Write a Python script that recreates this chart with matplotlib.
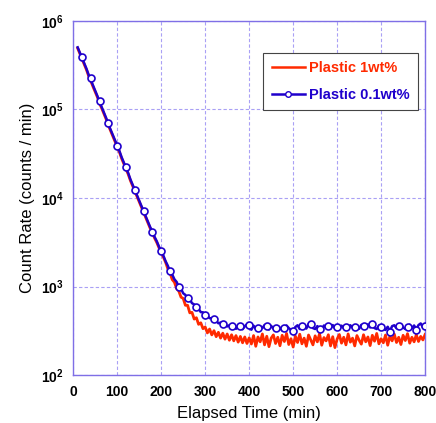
import numpy as np
import matplotlib
matplotlib.use('Agg')
import matplotlib.pyplot as plt
from matplotlib.lines import Line2D
from matplotlib.ticker import FixedLocator, FuncFormatter

plt.rcParams['font.family'] = ['Liberation Sans', 'DejaVu Sans']
plt.rcParams['mathtext.fontset'] = 'custom'
plt.rcParams['mathtext.rm'] = 'Liberation Sans'
plt.rcParams['mathtext.bf'] = 'Liberation Sans:bold'

# elapsed time grid (min) for the dense traces
time_min = np.arange(10, 801, 5)

# Plastic 1wt% (red trace), counts / min
red_counts = [
    490000, 425000, 370000, 322000, 280000, 238000, 208000, 180000, 157000, 137000,
    116000, 102000, 88500, 77000, 65600, 57100, 49800, 43400, 37700, 32900,
    27900, 24300, 21200, 18500, 15700, 13700, 11900, 10400, 9050, 7890,
    6870, 5980, 5210, 4540, 4040, 3520, 3140, 2740, 2450, 2140,
    1880, 1590, 1430, 1200, 1120, 950, 890, 760, 735, 615,
    615, 505, 512, 430, 445, 375, 390, 335, 350, 300,
    332, 285, 318, 272, 305, 262, 298, 255, 292, 248,
    286, 244, 280, 236, 274, 232, 270, 228, 264,
    225, 280, 212, 270, 238, 292, 220, 275, 210, 262,
    285, 228, 268, 215, 282, 240, 296, 222, 258, 208,
    276, 234, 290, 226, 262, 212, 284, 250, 220, 278,
    238, 294, 218, 266, 244, 286, 214, 272, 205, 256,
    288, 230, 268, 220, 292, 236, 262, 214, 280, 248,
    224, 286, 238, 270, 216, 282, 242, 296, 226, 258,
    232, 284, 218, 276, 244, 290, 234, 268, 222, 282,
    246, 294, 230, 268, 238, 286, 240, 274, 250, 288,
]

# Plastic 0.1wt% (blue trace), counts / min
blue_counts = [
    501000, 436000, 380000, 331000, 288000, 245000, 214000, 186000, 162000, 141000,
    120000, 105000, 91200, 79400, 67600, 58900, 51300, 44700, 38900, 33900,
    28800, 25100, 21900, 19100, 16200, 14100, 12300, 10700, 9330, 8130,
    7080, 6170, 5370, 4680, 4170, 3630, 3240, 2820, 2510, 2230,
    1930, 1720, 1490, 1370, 1210, 1130, 990, 945, 840, 805,
    735, 716, 650, 628, 580, 560, 515, 512, 470, 468,
    440, 438, 410, 412, 385, 392, 368, 377, 355,
    366, 342, 378, 334, 360, 368, 330, 356, 374, 340,
    326, 362, 334, 322, 358, 340, 368, 346, 328, 360,
    336, 326, 358, 342, 320, 334, 364, 340, 324, 312,
    350, 366, 332, 360, 372, 336, 378, 370, 340, 332,
    358, 334, 328, 364, 342, 362, 334, 368, 338, 356,
    332, 362, 340, 358, 328, 366, 344, 336, 360, 334,
    370, 360, 336, 374, 346, 378, 340, 332, 364, 356,
    334, 324, 352, 314, 358, 366, 338, 362, 378, 346,
    332, 358, 372, 340, 364, 330, 368, 384, 346, 364,
]

# open-circle markers on the blue trace, every 20 min
marker_time = np.arange(20, 801, 20)
marker_counts = [
    389000, 224000, 123000, 70800, 38900, 22400, 12300, 7080, 4120, 2510,
    1490, 1000, 750, 585, 480, 428, 379, 361, 363, 372,
    339, 363, 338, 338, 313, 363, 379, 333, 363, 348,
    354, 348, 363, 379, 354, 305, 363, 348, 324, 358,
]

red = '#ff2a00'
blue = '#1f00cc'
frame = '#7f6fe6'

fig = plt.figure(figsize=(4.36, 4.23), dpi=100)
ax = fig.add_axes([0.168, 0.113, 0.807, 0.838])

ax.plot(time_min, red_counts, color=red, lw=2.0, zorder=3)
ax.plot(time_min, blue_counts, color=blue, lw=1.8, zorder=4)
ax.plot(marker_time, marker_counts, ls='none', marker='o', ms=5,
        mfc='white', mec=blue, mew=1.2, zorder=5)

ax.set_yscale('log')
ax.set_xlim(0, 800)
ax.set_ylim(1e2, 1e6)
xt = np.arange(0, 801, 100)
ax.set_xticks(xt, [str(v) for v in xt], fontweight='bold')
ax.yaxis.set_major_locator(FixedLocator([1e2, 1e3, 1e4, 1e5, 1e6]))
ax.yaxis.set_minor_locator(FixedLocator([]))
ax.yaxis.set_major_formatter(FuncFormatter(
    lambda v, p: r'$\mathbf{10^{%d}}$' % round(np.log10(v))))
ax.tick_params(length=0, labelsize=10, pad=7)

ax.grid(True, color='#a9a0f5', ls=(0, (3, 2)), lw=0.8)
for s in ax.spines.values():
    s.set_color(frame)
    s.set_linewidth(1.0)

ax.set_xlabel('Elapsed Time (min)', fontsize=12, labelpad=5)
ax.set_ylabel('Count Rate (counts / min)', fontsize=12, labelpad=4)

handles = [
    Line2D([], [], color=red, lw=1.8),
    Line2D([], [], color=blue, lw=1.8, marker='o', ms=4, mfc='white', mec=blue),
]
leg = ax.legend(handles, ['Plastic 1wt%', 'Plastic 0.1wt%'],
                loc='upper right', bbox_to_anchor=(0.98, 0.91),
                borderaxespad=0, fancybox=False, framealpha=1,
                edgecolor='#444444', prop={'weight': 'bold', 'size': 10.5},
                handlelength=2.3, labelspacing=0.9, borderpad=0.55,
                handletextpad=0.3)
leg.get_frame().set_linewidth(0.8)
for txt, c in zip(leg.get_texts(), [red, blue]):
    txt.set_color(c)

fig.savefig('out.png', dpi=100)
